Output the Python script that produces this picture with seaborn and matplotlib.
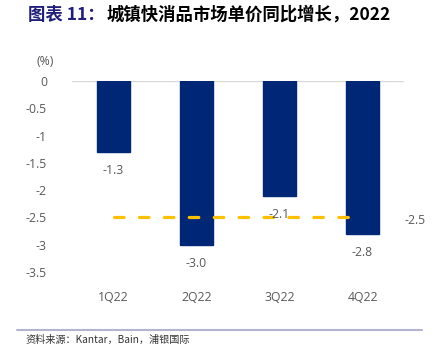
import matplotlib
matplotlib.use('Agg')
import matplotlib.pyplot as plt
import seaborn as sns
import pandas as pd
from matplotlib.lines import Line2D

# data
quarters = ['1Q22', '2Q22', '3Q22', '4Q22']
price_growth = [-1.3, -3.0, -2.1, -2.8]
avg_growth = [-2.5, -2.5, -2.5, -2.5]
yticks = [0, -0.5, -1, -1.5, -2, -2.5, -3, -3.5]

sns.set_style('white')
plt.rcParams['font.family'] = ['Open Sans', 'Noto Sans CJK SC', 'DejaVu Sans']

df = pd.DataFrame({'quarter': quarters, 'growth': price_growth})

W, H = 433, 352
fig = plt.figure(figsize=(W / 100, H / 100), dpi=100)
ax = fig.add_axes([72 / W, 1 - 272 / H, (404 - 72) / W, (272 - 81) / H])

navy = '#002776'
gold = '#FFC000'
grey = '#595959'

sns.barplot(data=df, x='quarter', y='growth', color=navy, width=0.4,
            saturation=1, ax=ax, edgecolor=navy)
ax.plot(range(len(quarters)), avg_growth, color=gold, lw=2.3,
        dashes=(3.0, 4.8), dash_capstyle='round', zorder=3)

for i, v in enumerate(price_growth):
    ax.annotate(f'{v:.1f}', (i, v), xytext=(0, -18), textcoords='offset points',
                ha='center', va='bottom', fontsize=8.8, color=grey)
ax.annotate(f'{avg_growth[-1]:.1f}', (len(quarters) - 1, avg_growth[-1]),
            xytext=(38, -7), textcoords='offset points',
            ha='center', va='bottom', fontsize=8.8, color=grey)

ax.set_ylim(-3.5, 0)
ax.set_xlim(-0.5, len(quarters) - 0.5)
ax.set_yticks(yticks)
ax.set_yticklabels([f'{t:g}' for t in yticks])
ax.set_xlabel('')
ax.set_ylabel('')
ax.tick_params(axis='both', length=0, labelsize=8.8, labelcolor=grey)
ax.tick_params(axis='x', pad=14)
ax.tick_params(axis='y', pad=18)
for s in ax.spines.values():
    s.set_visible(False)
ax.axhline(0, color='#D9D9D9', lw=1, zorder=0)
ax.text(-0.081, 1.10, '(%)', transform=ax.transAxes, fontsize=8.8,
        color=grey, ha='center', va='center')

# title in two colours
t1 = fig.text(28 / W, 1 - 15 / H, '图表 11：', fontsize=12.5, fontweight='bold',
              color='#1F1F7A', va='center', ha='left',
              family=['Noto Sans CJK SC', 'DejaVu Sans'])
fig.canvas.draw()
bb = t1.get_window_extent()
fig.text(bb.x1 / W + 0.004, 1 - 15 / H, '城镇快消品市场单价同比增长，2022',
         fontsize=12.5, fontweight='bold', color='black', va='center', ha='left',
         family=['Noto Sans CJK SC', 'DejaVu Sans'])

fig.add_artist(Line2D([17 / W, 422 / W], [1 - 330 / H, 1 - 330 / H],
                      color='#B4B4D2', lw=1.5, transform=fig.transFigure))
fig.text(25 / W, 1 - 340 / H, '资料来源：Kantar，Bain，浦银国际', fontsize=7.3,
         color='#333333', va='center', ha='left',
         family=['Noto Sans CJK SC', 'DejaVu Sans'])

fig.savefig('out.png', dpi=100)
